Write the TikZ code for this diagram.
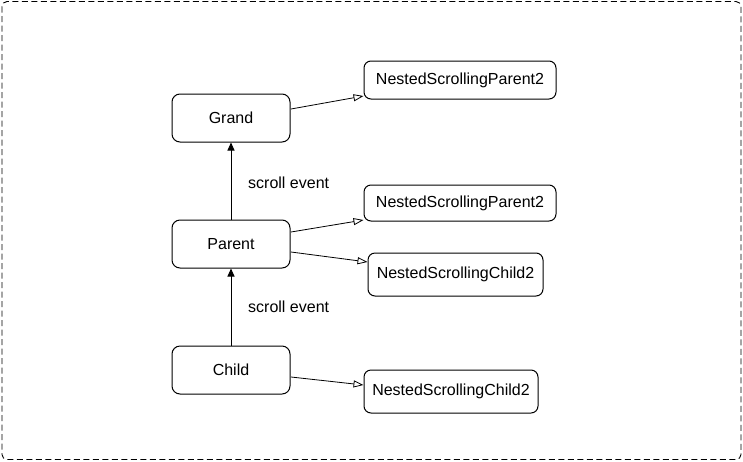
\documentclass[tikz,border=0pt]{standalone}
\usepackage{fontspec}
\setmainfont{Liberation Sans}
\usetikzlibrary{arrows.meta}
\begin{document}
\begin{tikzpicture}[x=1pt,y=-1pt,
  box/.style={draw,line width=1pt,rounded corners=8pt,minimum width=118pt,minimum height=48pt,inner sep=0pt,font=\fontsize{16}{19}\selectfont},
  ibox/.style={draw,line width=1pt,rounded corners=7pt,minimum height=38pt,inner sep=0pt,font=\fontsize{16}{19}\selectfont},
  impl/.style={draw,line width=0.8pt,-{Triangle[open,length=10pt,width=7pt]}},
  flow/.style={draw,line width=0.9pt,-{Triangle[length=8pt,width=7pt]}},
  lbl/.style={font=\fontsize{16}{19}\selectfont,anchor=west,inner sep=0pt}]
\useasboundingbox (0,0) rectangle (743,461);
\draw[line width=0.9pt,dash pattern=on 6pt off 3.5pt,rounded corners=5pt] (2,1.5) rectangle (741,459.5);
\node[box] (grand) at (231,118) {Grand};
\node[box] (parent) at (231,244) {Parent};
\node[box] (child) at (231,370) {Child};
\node[ibox,minimum width=192pt] (np1) at (460,80) {NestedScrollingParent2};
\node[ibox,minimum width=192pt,minimum height=36pt] (np2) at (460,203) {NestedScrollingParent2};
\node[ibox,minimum width=175pt,minimum height=43pt] (nc1) at (455.5,274.5) {NestedScrollingChild2};
\node[ibox,minimum width=174pt,minimum height=43pt] (nc2) at (451,391.5) {NestedScrollingChild2};
\coordinate (g1) at (291,109);
\coordinate (p1) at (291,232);
\coordinate (p2) at (291,252);
\coordinate (c1) at (291,377);
\draw[impl] (g1) -- (np1.south west |- 0,96);
\draw[impl] (p1) -- (np2.south west |- 0,220);
\draw[impl] (p2) -- (nc1.west |- 0,262);
\draw[impl] (c1) -- (nc2.west |- 0,385);
\draw[flow] (parent.north) -- (grand.south);
\draw[flow] (child.north) -- (parent.south);
\node[lbl] (l1) at (248,183) {scroll event};
\node[lbl] (l2) at (248,307) {scroll event};
\end{tikzpicture}
\end{document}
